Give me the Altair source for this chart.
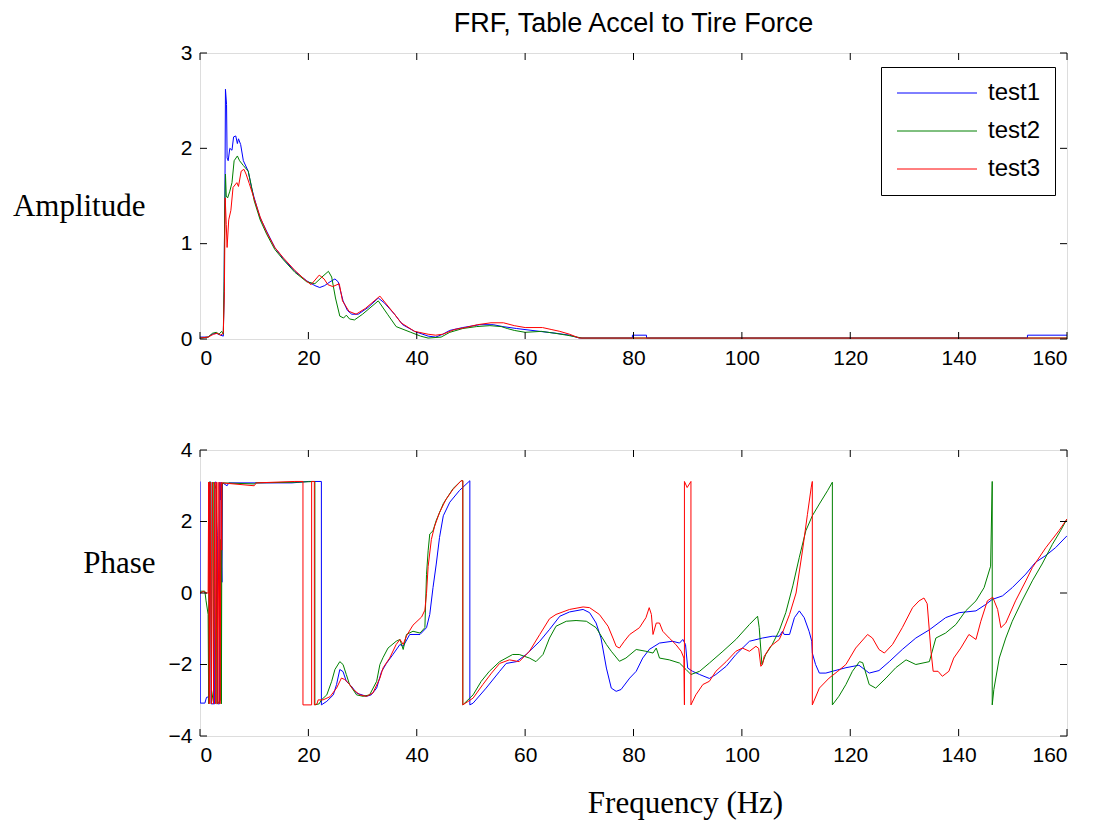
import altair as alt
import pandas as pd

# ---------------- Amplitude data ----------------
amp_f_test1 = [0, 1.5, 2.2, 3.0, 3.8, 4.3, 4.45, 4.5, 4.6, 4.7, 4.9, 5.0, 5.2, 5.5, 5.9, 6.2, 6.6, 6.9, 7.1, 7.5,
               8.0, 8.9, 9.5, 10.0, 11.1, 12.3, 13.8, 15.4, 17.5, 19.7, 21.2, 22.1, 23.0, 24.0, 24.9, 25.5, 26.4,
               27.2, 28.0, 29.2, 31.0, 32.9, 34.0, 35.9, 37.4, 39.6, 42.1, 43.5, 44.8, 46.1, 48.5, 51.6, 54.1,
               55.9, 58.4, 62.7, 65.7, 68.2, 70.0, 79.8, 79.8, 82.4, 82.4, 152.7, 152.7, 160]
amp_v_test1 = [0.02, 0.02, 0.05, 0.06, 0.04, 0.03, 0.5, 0.96, 1.5, 2.62, 2.46, 1.9, 1.87, 2.0, 1.98, 2.12, 2.13, 2.05,
               2.1, 2.04, 1.87, 1.76, 1.59, 1.48, 1.27, 1.13, 0.96, 0.84, 0.71, 0.61, 0.56, 0.54, 0.56, 0.60, 0.63,
               0.6, 0.40, 0.30, 0.26, 0.26, 0.33, 0.43, 0.38, 0.26, 0.15, 0.08, 0.03, 0.02, 0.05, 0.09, 0.12, 0.15,
               0.15, 0.13, 0.11, 0.08, 0.06, 0.04, 0.01, 0.01, 0.04, 0.04, 0.01, 0.01, 0.04, 0.04]

amp_f_test2 = [0, 1.5, 2.3, 3.0, 3.5, 4.0, 4.3, 4.45, 4.55, 4.7, 4.85, 5.1, 5.5, 5.9, 6.3, 6.9, 7.3, 8.0, 8.9, 9.5,
               10.0, 11.1, 12.3, 13.8, 15.4, 17.5, 19.7, 21.2, 22.5, 23.7, 24.3, 25.0, 25.8, 26.5, 27.0, 27.6, 28.5,
               30.0, 32.9, 34.6, 36.2, 38.9, 40.7, 42.1, 44.5, 46.1, 48.5, 51.0, 53.5, 55.6, 56.7, 58.0, 60.0, 63.0,
               65.5, 67.7, 70.5, 160]
amp_v_test2 = [0.01, 0.02, 0.06, 0.07, 0.05, 0.08, 0.05, 0.6, 1.3, 1.73, 1.5, 1.48, 1.55, 1.64, 1.87, 1.92, 1.87,
               1.82, 1.76, 1.6, 1.45, 1.25, 1.1, 0.94, 0.83, 0.7, 0.6, 0.58, 0.65, 0.71, 0.65, 0.43, 0.24, 0.22,
               0.25, 0.21, 0.2, 0.26, 0.40, 0.26, 0.13, 0.07, 0.03, 0.01, 0.02, 0.07, 0.11, 0.13, 0.14, 0.13, 0.11,
               0.09, 0.07, 0.08, 0.06, 0.04, 0.01, 0.01]

amp_f_test3 = [0, 1.5, 2.5, 3.2, 3.8, 4.3, 4.5, 4.65, 4.85, 5.0, 5.3, 5.7, 6.1, 6.8, 7.1, 7.6, 8.1, 8.5, 9.1, 10.0,
               11.1, 12.3, 13.8, 15.4, 17.5, 19.4, 20.5, 22.0, 22.9, 23.6, 24.5, 25.7, 26.3, 27.5, 28.8, 30.5,
               33.2, 35.9, 37.1, 39.6, 42.1, 43.5, 44.8, 47.0, 49.0, 51.2, 53.7, 56.0, 58.0, 60.0, 63.2, 64.8,
               66.4, 68.2, 70.0, 160]
amp_v_test3 = [0.01, 0.02, 0.05, 0.06, 0.04, 0.06, 0.5, 1.48, 1.2, 0.96, 1.25, 1.35, 1.59, 1.64, 1.6, 1.76, 1.78,
               1.73, 1.63, 1.47, 1.28, 1.12, 0.96, 0.85, 0.72, 0.62, 0.57, 0.67, 0.63, 0.57, 0.55, 0.58, 0.40,
               0.29, 0.26, 0.32, 0.45, 0.26, 0.17, 0.08, 0.05, 0.04, 0.05, 0.10, 0.12, 0.15, 0.17, 0.17, 0.14,
               0.12, 0.12, 0.10, 0.08, 0.05, 0.01, 0.01]

# ---------------- Phase data ----------------
ph_f_test1 = [0, 0.05, 0.9, 1.2, 1.7, 1.75, 2.0, 2.05, 2.7, 2.75, 3.0, 3.1, 3.2, 3.25, 3.6, 3.65, 3.75, 3.9, 3.95,
              4.05, 4.15, 5.0, 5.3, 17.0, 20.0, 22.4, 22.4, 23.4, 24.6, 25.2, 25.8, 26.4, 27.0, 27.9, 28.9, 30.7,
              31.6, 32.6, 33.5, 34.4, 35.6, 36.9, 37.5, 38.7, 40.6, 41.8, 42.4, 43.0, 43.6, 44.2, 44.9, 46.1,
              47.9, 49.8, 49.8, 50.4, 52.8, 55.3, 56.5, 58.4, 60.2, 62.7, 64.5, 66.4, 68.2, 70.7, 71.9, 73.1,
              74.0, 75.0, 75.9, 76.8, 77.7, 79.3, 80.5, 81.7, 82.9, 84.8, 87.2, 88.5, 89.1, 89.6, 90.0, 90.9,
              92.2, 94.0, 95.2, 97.1, 98.9, 101.4, 103.8, 105.6, 106.9, 107.5, 107.8, 108.8, 109.7, 110.6,
              111.5, 112.4, 112.9, 113.0, 113.6, 114.3, 115.5, 116.7, 119.2, 121.6, 123.5, 125.3, 127.2, 129.6,
              132.1, 134.6, 137.6, 140.1, 143.2, 145.0, 146.2, 148.1, 149.9, 152.4, 154.2, 156.1, 157.9, 160]
ph_v_test1 = [3.12, -3.08, -3.08, -2.92, -2.9, 3.1, 3.1, -3.1, -3.1, 3.1, 3.1, 2.0, 1.6, -3.1, -3.1, 3.1, 2.6, 3.1,
              0.9, 0.3, 3.08, 3.0, 3.08, 3.08, 3.12, 3.12, -3.13, -3.03, -2.85, -2.56, -2.14, -2.2, -2.47, -2.6,
              -2.8, -2.89, -2.85, -2.66, -2.2, -1.97, -1.72, -1.44, -1.49, -1.16, -1.16, -0.97, -0.6, 0.15, 0.81,
              1.55, 2.16, 2.54, 2.87, 3.14, -3.13, -3.08, -2.66, -2.19, -1.97, -1.92, -1.72, -1.35, -1.02, -0.65,
              -0.53, -0.46, -0.55, -0.84, -1.26, -2.1, -2.66, -2.75, -2.7, -2.38, -2.19, -1.82, -1.58, -1.4,
              -1.35, -1.4, -1.3, -1.44, -2.1, -2.19, -2.28, -2.39, -2.28, -2.05, -1.72, -1.35, -1.26, -1.21,
              -1.21, -1.07, -1.16, -1.16, -0.69, -0.5, -0.69, -1.07, -1.35, -1.68, -2.0, -2.24, -2.24, -2.19,
              -2.09, -2.02, -2.24, -2.17, -1.92, -1.58, -1.26, -1.03, -0.69, -0.55, -0.5, -0.32, -0.18, -0.08,
              0.15, 0.53, 0.86, 1.05, 1.27, 1.6]

ph_f_test2 = [0, 0.9, 1.1, 1.5, 1.6, 1.65, 2.0, 2.1, 2.5, 2.55, 3.0, 3.1, 3.8, 3.85, 3.95, 4.05, 4.2, 10.0, 10.3,
              18.0, 21.2, 21.2, 22.0, 22.4, 23.4, 24.3, 24.9, 25.8, 26.4, 27.0, 27.6, 28.9, 30.1, 31.3, 32.6, 33.2,
              33.8, 34.7, 36.2, 36.9, 37.5, 38.1, 39.3, 40.6, 41.5, 41.8, 42.1, 42.4, 43.0, 43.6, 44.9, 46.7,
              48.2, 48.5, 48.5, 50.4, 51.9, 53.4, 55.3, 57.7, 58.9, 60.8, 62.0, 63.3, 64.5, 65.7, 67.6, 69.4,
              71.3, 73.1, 75.0, 75.9, 77.4, 78.6, 80.5, 82.3, 83.6, 84.2, 84.8, 86.6, 88.5, 89.7, 90.6, 92.2,
              94.0, 96.5, 98.9, 101.4, 102.9, 103.2, 103.7, 104.4, 105.6, 106.9, 108.1, 109.4, 110.6, 111.8,
              113.0, 114.3, 115.8, 116.7, 116.7, 117.9, 119.2, 120.4, 121.7, 122.3, 123.5, 124.7, 126.6, 128.4,
              130.3, 132.1, 134.6, 135.8, 137.6, 139.5, 141.3, 143.2, 144.7, 145.9, 146.2, 146.2, 146.5, 147.5,
              148.7, 149.9, 151.7, 153.6, 155.4, 157.3, 158.8, 160]
ph_v_test2 = [0.05, 0.05, -0.2, -0.6, -3.1, 3.1, 3.1, -3.1, -2.7, 3.1, 2.9, -3.1, -3.0, 1.5, -3.1, 3.0, 3.08, 3.05,
              3.08, 3.1, 3.12, -3.13, -3.1, -2.99, -2.85, -2.47, -2.14, -1.92, -2.0, -2.28, -2.56, -2.85, -2.89,
              -2.85, -2.47, -2.0, -1.8, -1.54, -1.35, -1.3, -1.58, -1.16, -1.07, -1.12, -0.97, 0.52, 1.18, 1.65,
              1.74, 2.03, 2.5, 2.92, 3.14, 3.14, -3.13, -2.85, -2.47, -2.19, -1.92, -1.72, -1.72, -1.82, -1.92,
              -1.72, -1.26, -0.93, -0.79, -0.77, -0.79, -0.97, -1.44, -1.63, -1.91, -1.82, -1.58, -1.63, -1.68,
              -1.54, -1.82, -1.87, -1.96, -2.14, -2.28, -2.19, -1.96, -1.63, -1.3, -0.88, -0.65, -0.97, -2.0,
              -1.72, -1.44, -1.05, -0.55, 0.2, 1.0, 1.74, 2.16, 2.49, 2.86, 3.1, -3.13, -2.89, -2.56, -2.19,
              -1.92, -1.95, -2.56, -2.66, -2.38, -2.09, -1.87, -2.0, -1.92, -1.26, -1.12, -0.88, -0.5, -0.22,
              0.15, 0.75, 3.12, -3.13, -2.7, -1.82, -1.26, -0.79, -0.22, 0.34, 0.81, 1.36, 1.74, 2.07]

ph_f_test3 = [0, 0.7, 1.0, 1.5, 1.6, 1.7, 1.85, 2.1, 2.3, 2.5, 2.75, 2.9, 3.1, 3.3, 3.5, 3.7, 3.9, 4.0, 4.05, 10.0,
              10.4, 17.5, 19.0, 19.0, 20.6, 20.6, 21.1, 21.1, 21.6, 21.8, 22.7, 24.0, 25.2, 26.1, 26.7, 27.3, 28.3,
              29.5, 30.7, 31.9, 33.2, 33.8, 35.0, 36.2, 36.9, 37.5, 38.1, 39.3, 40.9, 41.5, 41.8, 42.1, 42.7,
              43.3, 44.2, 45.4, 46.7, 48.2, 48.5, 48.5, 50.4, 52.2, 53.8, 55.3, 57.1, 58.9, 60.8, 62.7, 64.5,
              65.7, 68.2, 70.7, 71.9, 73.7, 75.3, 76.2, 76.8, 77.4, 78.3, 79.3, 81.1, 82.3, 82.9, 83.3, 83.6,
              84.2, 84.8, 85.4, 86.6, 87.8, 88.8, 89.3, 89.4, 89.4, 89.9, 90.6, 90.6, 91.5, 92.8, 94.0, 95.2,
              97.1, 98.9, 100.1, 101.4, 102.6, 103.1, 103.5, 103.8, 104.1, 105.3, 106.9, 107.6, 108.8, 110.0,
              111.2, 112.1, 112.8, 113.0, 113.0, 114.3, 116.1, 117.7, 119.2, 121.0, 123.2, 124.1, 125.3, 126.3,
              127.8, 129.6, 131.5, 132.7, 133.6, 134.2, 134.9, 135.3, 136.2, 137.0, 138.2, 139.1, 140.4, 141.9,
              143.2, 144.1, 145.3, 146.3, 147.2, 147.8, 148.7, 150.5, 152.4, 153.6, 156.1, 158.5, 160]
ph_v_test3 = [0.0, 0.05, 0.0, 0.0, 3.1, -3.1, 3.1, -3.1, 3.1, -3.1, 3.1, -3.1, 3.1, -3.1, 3.1, -3.1, 3.1, 1.2,
              3.08, 3.0, 3.08, 3.12, 3.12, -3.13, -3.13, 3.12, 3.12, -3.13, -3.1, -2.99, -2.99, -2.9, -2.66,
              -2.38, -2.42, -2.5, -2.7, -2.85, -2.89, -2.8, -2.38, -2.09, -1.82, -1.44, -1.3, -1.44, -1.2, -0.9,
              -0.67, -0.48, -0.01, 0.74, 1.5, 1.87, 2.25, 2.62, 2.9, 3.14, 3.14, -3.13, -2.94, -2.56, -2.24,
              -1.97, -1.87, -1.92, -1.63, -1.16, -0.72, -0.6, -0.46, -0.39, -0.41, -0.6, -0.93, -1.26, -1.49,
              -1.54, -1.35, -1.16, -0.97, -0.69, -0.41, -0.6, -1.16, -0.84, -0.84, -1.07, -1.26, -1.44, -1.63,
              -1.82, -3.13, 3.12, 2.95, 3.12, -3.13, -2.85, -2.56, -2.47, -2.19, -1.92, -1.63, -1.54, -1.63,
              -1.49, -1.55, -2.05, -2.0, -1.78, -1.49, -1.3, -1.07, -0.6, 0.0, 1.2, 2.2, 2.96, 3.12, -3.13, -2.66,
              -2.38, -2.19, -2.0, -1.54, -1.16, -1.26, -1.58, -1.68, -1.44, -0.97, -0.41, -0.22, -0.14, -0.3,
              -1.63, -2.19, -2.19, -2.33, -2.19, -1.82, -1.54, -1.16, -1.3, -0.79, -0.22, -0.12, -0.46, -0.97,
              -0.84, -0.22, 0.34, 0.71, 1.27, 1.74, 2.07]

series_names = ["test1", "test2", "test3"]
series_colors = ["#0000ff", "#008000", "#ff0000"]
x_ticks = [0, 20, 40, 60, 80, 100, 120, 140, 160]
amp_ticks = [0, 1, 2, 3]
ph_ticks = [-4, -2, 0, 2, 4]


def to_long(pairs):
    rows = []
    for name, (fs, vs) in zip(series_names, pairs):
        for i, (f, v) in enumerate(zip(fs, vs)):
            rows.append({"f": f, "v": v, "s": name, "i": i})
    return pd.DataFrame(rows)


amp_df = to_long([(amp_f_test1, amp_v_test1), (amp_f_test2, amp_v_test2), (amp_f_test3, amp_v_test3)])
ph_df = to_long([(ph_f_test1, ph_v_test1), (ph_f_test2, ph_v_test2), (ph_f_test3, ph_v_test3)])

W, H = 867, 286
TL = 7  # inward tick length
color_scale = alt.Scale(domain=series_names, range=series_colors)
xscale = alt.Scale(domain=[0, 160], nice=False, zero=False)

SERIF = "Liberation Serif"
SANS = "Liberation Sans"
lab = dict(labelFont=SANS, labelFontSize=21, labelColor="black", ticks=False,
           domain=False, grid=False, labelPadding=8, format="d")


def panel(df, ydomain, yticks, ytitle, ytitle_x, ytitle_y, xtitle, show_legend):
    yscale = alt.Scale(domain=ydomain, nice=False, zero=False)
    if show_legend:
        leg = alt.Legend(orient="none", legendX=681, legendY=14, title=None,
                         symbolType="M-1,0L7,0", symbolSize=400, symbolStrokeWidth=1,
                         labelFont=SANS, labelFontSize=24, labelColor="black",
                         fillColor="white", strokeColor="black", padding=14, rowPadding=14,
                         labelOffset=69)
    else:
        leg = None
    xaxis_kw = dict(values=x_ticks, **lab)
    if xtitle:
        xaxis = alt.Axis(title=xtitle, titleFont=SERIF, titleFontSize=31,
                         titleFontWeight="normal", titleColor="black", titlePadding=23,
                         titleX=485, titleAlign="center", **xaxis_kw)
    else:
        xaxis = alt.Axis(title=None, **xaxis_kw)
    yaxis = alt.Axis(values=yticks, title=ytitle, titleFont=SERIF, titleFontSize=31,
                     titleFontWeight="normal", titleColor="black", titleAngle=0, titleAlign="right",
                     titleBaseline="middle", titleX=ytitle_x, titleY=ytitle_y, **lab)
    lines = alt.Chart(df).mark_line(strokeWidth=1, clip=True).encode(
        x=alt.X("f:Q", scale=xscale, axis=xaxis),
        y=alt.Y("v:Q", scale=yscale, axis=yaxis),
        stroke=alt.Stroke("s:N", scale=color_scale, legend=leg),
        order=alt.Order("i:Q"),
        detail="s:N",
    )
    xt = pd.DataFrame({"t": x_ticks})
    yt = pd.DataFrame({"t": yticks})
    tick_style = dict(color="black", strokeWidth=1)
    xb = alt.Chart(xt).mark_rule(**tick_style).encode(x=alt.X("t:Q"), y=alt.value(H), y2=alt.value(H - TL))
    xtp = alt.Chart(xt).mark_rule(**tick_style).encode(x=alt.X("t:Q"), y=alt.value(0), y2=alt.value(TL))
    yl = alt.Chart(yt).mark_rule(**tick_style).encode(y=alt.Y("t:Q"), x=alt.value(0), x2=alt.value(TL))
    yr = alt.Chart(yt).mark_rule(**tick_style).encode(y=alt.Y("t:Q"), x=alt.value(W), x2=alt.value(W - TL))
    return alt.layer(lines, xb, xtp, yl, yr).properties(width=W, height=H)


top = panel(amp_df, [0, 3], amp_ticks, "Amplitude", -55, 153, None, True).properties(
    title=alt.TitleParams("FRF, Table Accel to Tire Force", font=SANS, fontSize=27,
                          fontWeight="normal", color="black", anchor="middle", offset=4)
)
bottom = panel(ph_df, [-4, 4], ph_ticks, "Phase", -45, 113, "Frequency (Hz)", False)

chart = alt.vconcat(top, bottom, spacing=69).properties(
    padding={"left": 11, "top": 9, "right": 10, "bottom": 5}
).configure_view(stroke="black", strokeWidth=1).configure(background="white")

chart.save("out.html", embed_options={"renderer": "svg", "actions": False})
